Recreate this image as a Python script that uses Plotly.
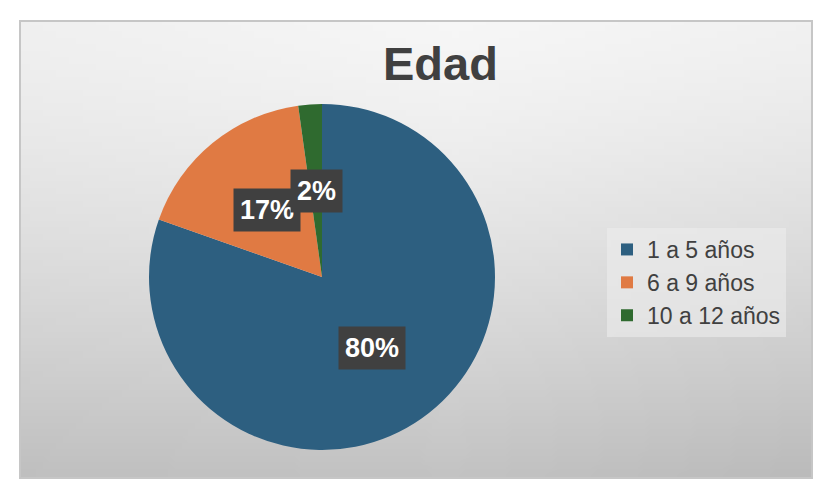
import base64, struct, zlib, math
import plotly.graph_objects as go

categories = ["1 a 5 años", "6 a 9 años", "10 a 12 años"]
values = [80.4, 17.4, 2.2]
label_texts = ["80%", "17%", "2%"]
colors = ["#2d5f80", "#e07a43", "#2f6a2f"]
title_text = "Edad"

W, H = 840, 502
# chart frame and pie geometry (pixels)
fx0, fy0, fx1, fy1 = 20, 21, 812, 478
cx, cy, R = 322, 277, 173


def gradient_png(w=120, h=70):
    rows = b""
    for j in range(h):
        y = j / (h - 1)
        row = b"\x00"
        for i in range(w):
            x = i / (w - 1)
            v = 246 - 48 * (y ** 1.4) - 12 * abs(x - 0.55) - 6 * x * y
            v = max(0, min(255, int(round(v))))
            row += bytes((v, v, v))
        rows += row

    def chunk(t, d):
        c = struct.pack(">I", len(d)) + t + d
        return c + struct.pack(">I", zlib.crc32(t + d) & 0xffffffff)

    png = b"\x89PNG\r\n\x1a\n"
    png += chunk(b"IHDR", struct.pack(">IIBBBBB", w, h, 8, 2, 0, 0, 0))
    png += chunk(b"IDAT", zlib.compress(rows, 9))
    png += chunk(b"IEND", b"")
    return "data:image/png;base64," + base64.b64encode(png).decode()


def px(x):
    return x / W


def py(y):
    return 1 - y / H


fig = go.Figure()
fig.add_trace(go.Pie(
    labels=categories,
    values=values,
    sort=False,
    direction="clockwise",
    rotation=0,
    marker=dict(colors=colors, line=dict(width=0)),
    textinfo="none",
    domain=dict(x=[px(cx - R), px(cx + R)], y=[py(cy + R), py(cy - R)]),
    showlegend=True,
))

# data labels at half radius of each slice's mid-angle
total = sum(values)
cum = 0
annotations = []
for v, t in zip(values, label_texts):
    mid = (cum + v / 2) / total * 2 * math.pi
    cum += v
    lx = cx + 0.5 * R * math.sin(mid)
    ly = cy - 0.5 * R * math.cos(mid)
    annotations.append(dict(
        x=px(lx), y=py(ly), xref="paper", yref="paper",
        text="<b>%s</b>" % t, showarrow=False,
        font=dict(family="Liberation Sans, Arial", size=27, color="white"),
        bgcolor="#404040", borderpad=6,
        xanchor="center", yanchor="middle",
    ))

annotations.append(dict(
    x=px(440), y=py(63), xref="paper", yref="paper",
    text="<b>%s</b>" % title_text, showarrow=False,
    font=dict(family="Liberation Sans, Arial", size=47, color="#404040"),
    xanchor="center", yanchor="middle",
))

fig.update_layout(
    width=W, height=H,
    margin=dict(l=0, r=0, t=0, b=0),
    paper_bgcolor="white",
    plot_bgcolor="white",
    images=[dict(
        source=gradient_png(), xref="paper", yref="paper",
        x=px(fx0), y=py(fy0), sizex=px(fx1) - px(fx0), sizey=py(fy0) - py(fy1),
        xanchor="left", yanchor="top", sizing="stretch", layer="below",
    )],
    shapes=[dict(
        type="rect", xref="paper", yref="paper",
        x0=px(fx0), x1=px(fx1), y0=py(fy1), y1=py(fy0),
        line=dict(color="#c6c6c6", width=2), fillcolor="rgba(0,0,0,0)",
        layer="below",
    )],
    annotations=annotations,
    legend=dict(
        x=px(607), y=py(228), xanchor="left", yanchor="top",
        font=dict(family="Liberation Sans, Arial", size=23, color="#404040"),
        bgcolor="rgba(236,236,236,0.6)",
        itemwidth=30, tracegroupgap=0,
    ),
    font=dict(family="Liberation Sans, Arial"),
)

fig.write_html("out.html", config={"displayModeBar": False},
               post_script="document.body.style.margin='0';")
